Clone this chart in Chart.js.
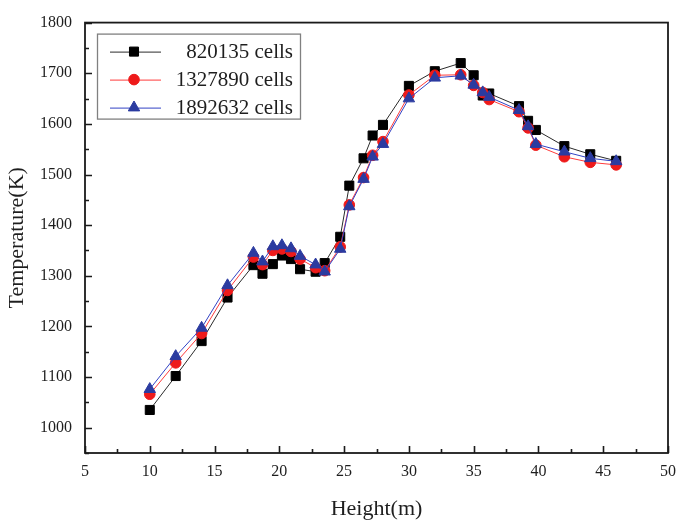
<!DOCTYPE html>
<html>
<head>
<meta charset="utf-8">
<script src="https://cdn.jsdelivr.net/npm/chart.js@4/dist/chart.umd.min.js"></script>
<style>
  html, body { margin: 0; padding: 0; background: #fff; }
  #wrap { width: 685px; height: 524px; }
</style>
</head>
<body>
<div id="wrap"><canvas id="c" width="685" height="524"></canvas></div>
<script>
// Sampling heights (m) along the furnace
const heights = [10, 12, 14, 16, 18, 18.7, 19.5, 20.2, 20.9, 21.6, 22.8, 23.5, 24.7, 25.4, 26.5, 27.2, 28,
                 30, 32, 34, 35, 35.7, 36.2, 38.5, 39.2, 39.8, 42, 44, 46];

// Temperature (K) for each mesh size
const temp820135  = [1035, 1102, 1171, 1257, 1321, 1304, 1323, 1340, 1333, 1313, 1308, 1325, 1377, 1478, 1532, 1577, 1598,
                     1675, 1704, 1720, 1696, 1656, 1660, 1635, 1606, 1588, 1556, 1540, 1527];
const temp1327890 = [1066, 1128, 1186, 1271, 1337, 1322, 1350, 1353, 1348, 1333, 1316, 1310, 1357, 1440, 1494, 1538, 1565,
                     1657, 1696, 1697, 1676, 1662, 1648, 1624, 1592, 1558, 1535, 1524, 1519];
const temp1892632 = [1076, 1141, 1197, 1281, 1345, 1328, 1358, 1360, 1354, 1339, 1322, 1308, 1353, 1437, 1491, 1535, 1560,
                     1650, 1691, 1695, 1677, 1662, 1653, 1627, 1595, 1560, 1545, 1532, 1526];

const seriesNames = ['820135 cells', '1327890 cells', '1892632 cells'];

// Labelled tick values; the unlabelled steps in between get minor tick marks
const xTickLabels = [5, 10, 15, 20, 25, 30, 35, 40, 45, 50];
const yTickLabels = [1000, 1100, 1200, 1300, 1400, 1500, 1600, 1700, 1800];

const SERIF = '"Liberation Serif", "Times New Roman", serif';

const styles = [
  { line: '#2a2a2a', fill: '#000000', shape: 'rect',     radius: 6.4 },
  { line: '#ff3b3b', fill: '#ee1a1a', shape: 'circle',   radius: 5.3 },
  { line: '#3242c4', fill: '#2b3ba0', shape: 'triangle', radius: 6.6 }
];
const seriesValues = [temp820135, temp1327890, temp1892632];

const datasets = seriesValues.map((vals, i) => ({
  label: seriesNames[i],
  data: heights.map((h, k) => ({ x: h, y: vals[k] })),
  borderColor: styles[i].line,
  borderWidth: 1,
  backgroundColor: styles[i].fill,
  pointStyle: styles[i].shape,
  pointRadius: styles[i].radius,
  pointBackgroundColor: styles[i].fill,
  pointBorderColor: styles[i].fill,
  pointBorderWidth: 1,
  tension: 0,
  order: 3 - i
}));

// Plot frame plus inward-pointing major/minor tick marks
const frameTicks = {
  id: 'frameTicks',
  afterDraw(chart) {
    const { ctx, chartArea: a, scales } = chart;
    ctx.save();
    ctx.strokeStyle = '#1a1a1a';
    ctx.lineWidth = 1.6;
    ctx.beginPath();
    const xs = scales.x;
    xs.ticks.forEach(t => {
      const px = Math.round(xs.getPixelForValue(t.value)) + 0.5;
      const len = xTickLabels.includes(t.value) ? 7 : 4;
      ctx.moveTo(px, a.bottom);
      ctx.lineTo(px, a.bottom - len);
    });
    const ys = scales.y;
    ys.ticks.forEach(t => {
      const py = Math.round(ys.getPixelForValue(t.value)) + 0.5;
      const len = yTickLabels.includes(t.value) ? 7 : 4;
      ctx.moveTo(a.left, py);
      ctx.lineTo(a.left + len, py);
    });
    ctx.stroke();
    ctx.lineWidth = 1.8;
    ctx.strokeRect(a.left, a.top, a.right - a.left, a.bottom - a.top);
    ctx.restore();
  }
};

// Boxed legend with a line segment through each marker
const boxLegend = {
  id: 'boxLegend',
  afterDraw(chart) {
    const { ctx, chartArea: a } = chart;
    const left = a.left + 12, top = a.top + 11, w = 203, h = 85;
    ctx.save();
    ctx.fillStyle = '#ffffff';
    ctx.fillRect(left, top, w, h);
    ctx.strokeStyle = '#808080';
    ctx.lineWidth = 1.3;
    ctx.strokeRect(left + 0.5, top + 0.5, w, h);
    const rowY = [top + 18, top + 46, top + 74];
    seriesNames.forEach((name, i) => {
      const y = rowY[i];
      const s = styles[i];
      ctx.strokeStyle = s.line;
      ctx.lineWidth = 1;
      ctx.beginPath();
      ctx.moveTo(left + 13, y + 0.5);
      ctx.lineTo(left + 64, y + 0.5);
      ctx.stroke();
      ctx.fillStyle = s.fill;
      ctx.strokeStyle = s.fill;
      Chart.helpers.drawPoint(ctx, {
        pointStyle: s.shape, radius: s.radius, rotation: 0, borderWidth: 1
      }, left + 37, y);
      ctx.fillStyle = '#1e1e1e';
      ctx.font = '21px ' + SERIF;
      ctx.textAlign = 'right';
      ctx.textBaseline = 'middle';
      ctx.fillText(name, left + 196, y + 1);
    });
    ctx.restore();
  }
};

new Chart(document.getElementById('c'), {
  type: 'line',
  data: { datasets },
  plugins: [frameTicks, boxLegend],
  options: {
    responsive: false,
    animation: false,
    devicePixelRatio: 1,
    layout: { padding: { left: 0, top: 16, right: 12, bottom: 0 } },
    plugins: { legend: { display: false }, tooltip: { enabled: false } },
    scales: {
      x: {
        type: 'linear',
        min: 5, max: 50,
        grid: { display: false, drawTicks: false },
        border: { display: false },
        ticks: {
          stepSize: 2.5,
          autoSkip: false,
          maxRotation: 0,
          padding: 9,
          color: '#1e1e1e',
          font: { family: SERIF, size: 16 },
          callback: v => xTickLabels.includes(v) ? String(v) : ''
        },
        title: {
          display: true,
          text: 'Height(m)',
          color: '#1e1e1e',
          font: { family: SERIF, size: 22 },
          padding: { top: 0, bottom: 2 }
        },
        afterFit: s => { s.height = 71; }
      },
      y: {
        type: 'linear',
        min: 950, max: 1800,
        grid: { display: false, drawTicks: false },
        border: { display: false },
        ticks: {
          stepSize: 50,
          autoSkip: false,
          padding: 13,
          color: '#1e1e1e',
          font: { family: SERIF, size: 16 },
          callback: v => yTickLabels.includes(v) ? String(v) : ''
        },
        title: {
          display: true,
          text: 'Temperature(K)',
          color: '#1e1e1e',
          font: { family: SERIF, size: 22 },
          padding: { top: 4, bottom: 0 }
        },
        afterFit: s => { s.width = 85; }
      }
    }
  }
});
</script>
</body>
</html>
